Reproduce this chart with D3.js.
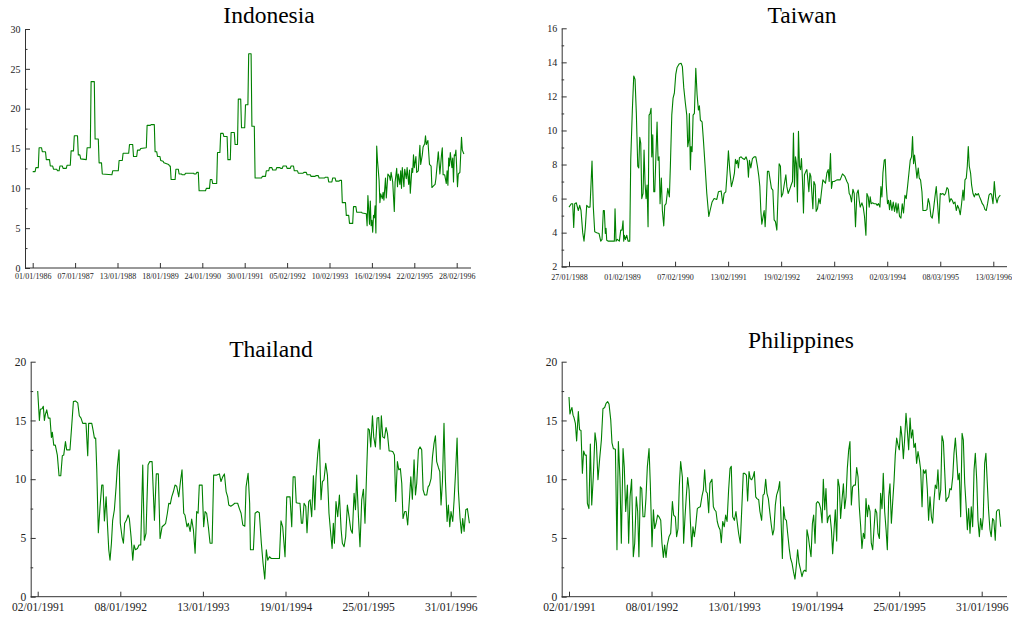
<!DOCTYPE html>
<html>
<head>
<meta charset="utf-8">
<script src="https://cdn.jsdelivr.net/npm/d3@7"></script>
<style>
  html, body { margin: 0; padding: 0; background: #fff; }
  svg { display: block; }
</style>
</head>
<body>
<div id="chart"></div>
<script>
// weekly series: [week index since first observation, rate]
const indonesia = [
  [0,12.1],[3,12.1],[4,12.6],[7,12.6],[8,15.1],[11,15.1],[12,14.6],[16,14.6],[17,13.6],[21,13.6],
  [22,12.8],[25,12.8],[26,12.4],[30,12.4],[31,12.2],[33,12.2],[34,12.8],[37,12.8],[38,12.5],[42,12.5],
  [43,12.9],[47,12.9],[48,14.7],[51,14.7],[52,16.6],[56,16.6],[57,14.2],[59,14.2],[60,13.7],[67,13.6],
  [68,15.1],[72,15.1],[73,23.4],[77,23.4],[78,16.2],[82,16.2],[83,13.2],[86,13.2],[87,11.8],[99,11.7],
  [100,12.2],[107,12.2],[108,13.5],[112,13.5],[113,14.4],[120,14.4],[121,15.5],[125,15.5],[126,14.0],[130,14.0],
  [131,14.8],[134,14.8],[135,15.0],[142,15.1],[143,17.9],[147,17.9],[148,18.0],[152,18.0],[153,14.6],[155,14.6],
  [156,14.0],[159,14.0],[160,13.5],[163,13.4],[164,13.2],[170,13.0],[171,12.8],[172,12.8],[173,11.1],[178,11.1],
  [179,12.4],[182,12.4],[183,11.8],[186,11.8],[187,11.7],[190,11.7],[191,11.9],[201,11.9],[202,11.8],[204,11.8],
  [205,12.0],[207,12.0],[208,9.7],[216,9.7],[217,10.0],[221,10.0],[222,11.1],[224,11.1],[225,10.6],[230,10.6],
  [231,14.5],[234,14.5],[235,16.9],[238,16.9],[239,16.5],[243,16.5],[244,13.6],[247,13.6],[248,17.0],[252,17.0],
  [253,15.5],[256,15.5],[257,21.2],[260,21.2],[261,17.6],[265,17.6],[266,20.5],[269,20.5],[270,26.9],[273,26.9],
  [274,17.8],[277,17.8],[278,11.3],[286,11.3],[287,11.5],[291,11.5],[292,12.2],[295,12.2],[296,12.6],[299,12.6],
  [300,12.3],[304,12.3],[305,12.6],[309,12.6],[310,12.5],[312,12.5],[313,12.8],[317,12.8],[318,12.5],[322,12.5],
  [323,12.8],[326,12.8],[327,12.2],[331,12.2],[332,11.9],[338,11.9],[339,12.0],[342,12.0],[343,11.7],[347,11.7],
  [348,11.5],[353,11.5],[354,11.6],[357,11.6],[358,11.3],[365,11.3],[366,11.4],[369,11.4],[370,10.8],[374,10.8],
  [375,11.3],[378,11.3],[379,10.9],[383,10.9],[384,11.0],[386,11.0],[387,8.2],[391,8.2],[392,6.6],[395,6.6],
  [396,5.6],[400,5.6],[401,7.7],[404,7.7],[405,7.0],[411,7.0],[412,6.9],[417,6.8],[418,5.3],[419,9.1],
  [421,5.5],[422,8.4],[423,5.3],[424,6.0],[425,4.5],[426,6.6],[427,6.3],[428,7.8],[429,4.4],[430,15.3],
  [431,13.5],[433,11.0],[434,8.2],[435,9.3],[437,8.7],[438,9.5],[439,8.5],[441,11.3],[442,8.8],[444,11.8],
  [446,11.5],[447,11.0],[448,12.0],[450,10.8],[452,7.1],[453,10.8],[455,12.5],[456,10.2],[457,11.8],[459,10.5],
  [460,12.2],[461,10.0],[462,12.6],[464,10.2],[465,12.4],[467,11.2],[468,12.6],[470,10.5],[471,12.3],[472,9.4],
  [474,12.5],[475,12.0],[476,14.2],[477,12.6],[479,14.0],[480,12.0],[482,12.2],[484,15.4],[485,13.0],[487,14.2],
  [488,15.2],[490,15.6],[491,16.6],[492,15.5],[494,16.0],[496,13.0],[498,12.8],[499,10.1],[501,10.3],[503,10.5],
  [504,11.2],[507,14.6],[509,11.8],[511,14.2],[512,15.1],[513,11.7],[515,11.7],[517,10.6],[518,12.2],[519,10.4],
  [520,13.8],[521,12.8],[522,14.5],[524,12.6],[525,13.8],[526,10.8],[527,14.2],[528,14.1],[529,14.8],[531,10.2],
  [532,11.8],[534,12.0],[536,16.4],[537,14.8],[539,14.3]
];

const taiwan = [
  [0,5.5],[2.3,5.7],[3.7,5.7],[4.7,4.3],[5.7,5.7],[7.3,5.75],[9.3,5.3],[10.7,5.6],[12,5.3],[13.7,4.0],
  [15,3.5],[16.3,4.3],[17.7,5.6],[19.3,5.5],[21,5.5],[23,8.2],[24.3,5.5],[25.7,4.05],[27.7,4.0],[30,3.95],
  [31.7,3.5],[33,3.6],[34.3,5.3],[35.3,5.3],[36.3,3.95],[37,4.25],[37.7,3.55],[39.3,3.5],[42.7,3.5],[45.3,3.5],
  [46,5.4],[47,3.5],[48.3,3.6],[50.3,3.5],[51.7,4.15],[53,4.15],[54,4.7],[54.7,3.5],[55.3,3.85],[56.3,3.6],
  [57.7,3.85],[59,3.5],[60.7,3.5],[61.7,8.3],[63.3,11.2],[64.7,13.2],[66,13.0],[67.3,11.0],[68.7,7.9],[69.7,7.8],
  [70.7,9.6],[71.7,9.25],[72.7,6.0],[74,6.3],[75,8.85],[76,6.9],[77,6.0],[78,6.8],[79,4.35],[80,10.9],
  [81,11.0],[82,11.3],[82.7,8.45],[83.7,9.75],[84.7,6.4],[85.7,6.4],[86.7,8.2],[88,10.5],[89,8.25],[90,8.45],
  [91,5.7],[92.3,7.2],[93.3,5.3],[94.7,4.4],[95.7,5.6],[97,5.7],[98.7,6.6],[100.3,6.1],[101.3,7.9],[102.7,10.9],
  [104,11.9],[105.3,12.2],[106.7,13.3],[108,13.7],[110,13.9],[112,13.95],[113.3,13.75],[114.7,12.5],[116.3,11.6],[117.7,10.9],
  [118.7,9.05],[119.7,9.45],[120.3,11.0],[121.3,7.7],[122,9.05],[123,8.75],[124,10.9],[125.3,11.0],[126.7,13.65],[128,12.1],
  [129.3,11.2],[130.3,11.45],[131.3,10.6],[133,10.5],[134.3,9.45],[136,7.9],[137.7,6.3],[139.7,4.95],[141,5.3],[143,5.8],
  [145,6.0],[147.7,5.95],[149.3,6.4],[152,6.45],[153.7,5.7],[155,6.3],[156.7,6.4],[158,7.5],[159.3,8.8],[160.7,7.65],
  [162.3,6.7],[164,7.1],[165.3,7.5],[166.3,8.3],[167.3,8.05],[168.3,8.25],[169.3,7.8],[170.3,8.4],[172,8.45],[173.7,8.35],
  [175.3,8.3],[177,8.45],[178.3,8.2],[179.3,7.25],[180.3,8.25],[181.7,7.8],[183.3,8.35],[185,8.45],[186.7,8.45],[188.3,7.9],
  [189.7,7.3],[190.7,6.7],[191.7,5.3],[192.7,4.5],[194,4.95],[195,5.3],[196,4.35],[197,5.5],[198.3,7.6],[199.7,7.6],
  [201,7.1],[202.3,6.6],[203.7,6.5],[205,4.75],[206.3,4.65],[207.7,4.15],[208.7,5.9],[210,8.05],[211.3,7.9],[212.3,6.1],
  [213.7,6.3],[215,6.8],[216.7,7.4],[217.7,6.7],[219,6.3],[220.3,6.5],[222,6.8],[223.3,7.0],[224.3,9.85],[225.3,6.7],
  [226.3,8.45],[227.3,8.05],[228.3,5.8],[229.3,9.95],[230.3,7.9],[231.3,7.7],[232.3,8.35],[233.3,7.1],[234.3,5.15],[235.3,7.4],
  [236.7,7.6],[237.7,7.7],[238.7,7.1],[239.7,6.4],[240.7,7.5],[241.7,7.3],[242.7,6.3],[243.7,5.4],[244.7,7.0],[246,6.8],
  [247,5.25],[248.3,5.4],[249.7,6.0],[251,5.7],[252.3,6.4],[253.7,7.1],[255,7.0],[256.3,6.9],[257.7,7.5],[259,7.7],
  [260,7.0],[261.3,8.65],[262.3,6.6],[263.3,7.0],[265,7.0],[267.7,7.1],[271,7.1],[273.3,7.45],[275.7,7.3],[277.7,7.0],
  [279,6.85],[280,6.3],[281,6.2],[282.3,5.8],[283.7,6.55],[285,6.3],[286.3,4.35],[287.7,6.3],[289,6.5],[290,5.9],
  [291,5.5],[292.7,5.75],[294,5.5],[295.3,4.95],[296.7,3.85],[297.7,6.3],[299,6.1],[300,5.5],[301,6.1],[302,5.7],
  [303.3,5.75],[305,5.7],[306.7,5.7],[308,5.6],[309.3,5.7],[310.7,5.5],[311.7,6.7],[312.7,6.1],[313.7,7.5],[315,8.25],
  [316,8.3],[317,6.8],[318.3,5.7],[319.3,5.9],[320.3,5.35],[321.3,5.9],[322.7,5.3],[324,5.8],[325.3,5.25],[326.7,5.75],
  [327.7,5.15],[329,5.7],[330.3,4.95],[331.7,4.85],[333,5.7],[334.3,5.15],[335.7,6.2],[337,6.0],[338.3,6.7],[339.7,7.5],
  [341,8.25],[342.3,8.45],[343.3,9.65],[344.3,8.05],[345.3,8.55],[346.3,8.0],[347.7,7.2],[349,7.8],[350,7.2],[351.3,7.1],
  [352.7,6.4],[353.7,5.3],[355,5.3],[356.3,5.3],[357.7,5.35],[359,6.0],[360.3,5.7],[361.7,4.95],[363,4.85],[364.3,5.4],
  [365.7,6.1],[367,6.7],[368.3,5.7],[369.7,4.55],[371,6.3],[372.3,6.25],[373.7,6.3],[375,6.2],[376.3,6.3],[377.7,6.65],
  [379,6.55],[380.3,5.8],[381.7,6.0],[383,5.9],[384.3,5.7],[385.7,5.8],[387,5.3],[388.3,5.6],[389.7,5.4],[391,5.05],
  [392.3,5.7],[393.7,6.5],[394.7,5.9],[395.7,7.1],[397,7.2],[398,7.9],[399,9.05],[400,7.9],[401.3,7.5],[402.3,6.8],
  [403.7,6.3],[405,6.1],[406.3,6.3],[407.7,6.2],[409,6.3],[410.3,6.1],[411.7,5.9],[413,5.7],[414.3,5.6],[415.7,5.35],
  [417,5.3],[418.3,5.7],[419.7,6.2],[421,6.3],[422.3,6.25],[423.7,5.7],[425,7.0],[426.3,6.1],[427.7,5.75],[429,6.05],
  [431,6.2]
];

const thailand = [
  [0,17.5],[1.1,15.0],[1.7,15.95],[2.8,16.0],[3.6,16.2],[4.3,15.0],[4.9,15.5],[5.8,15.9],[6.8,15.2],[7.9,15.2],
  [8.8,13.55],[9.4,14.0],[10.3,12.9],[11.3,12.9],[12.6,12.05],[13.7,10.3],[14.8,10.3],[15.8,12.0],[16.7,12.05],[17.8,13.2],
  [18.6,12.5],[20.7,12.5],[21.8,14.5],[22.9,16.6],[24.2,16.65],[25.7,16.5],[26.7,15.4],[27.8,15.2],[28.9,14.75],[31,14.75],
  [32.1,12.0],[32.7,14.75],[34.7,14.75],[35.5,14.2],[36.4,13.5],[37.2,13.5],[37.9,10.8],[38.9,5.45],[40,7.65],[41.1,9.5],
  [41.9,9.5],[42.8,6.45],[43.9,8.5],[44.7,6.3],[45.6,4.0],[46.4,3.1],[47.3,4.55],[48.1,6.5],[49.2,7.4],[50.3,9.35],
  [51.1,11.05],[52.2,12.5],[53,6.25],[54.1,5.1],[55,4.55],[55.8,6.25],[56.9,6.5],[58,6.95],[58.8,6.65],[59.9,5.1],
  [61,3.1],[61.8,4.4],[62.7,4.0],[64,4.1],[65,4.4],[66.1,4.4],[67.4,11.2],[68.4,4.8],[69.5,5.4],[70.8,11.2],
  [71.9,11.5],[73.4,11.5],[74.9,6.5],[76.1,10.45],[77.4,10.45],[78.5,4.95],[79.8,5.95],[81.1,6.1],[82.1,6.25],[83.2,7.1],
  [84.1,7.95],[85.1,7.9],[86,8.5],[87.1,8.95],[88.1,9.5],[89.2,9.4],[90.5,8.5],[91.6,9.8],[92.6,10.8],[93.7,7.1],
  [94.5,6.95],[95.8,5.95],[96.7,6.25],[97.8,5.55],[98.8,6.6],[99.9,5.7],[101,3.7],[102,7.25],[102.9,7.1],[103.7,9.5],
  [105.5,9.5],[106.5,5.95],[107.4,7.25],[108.4,7.1],[109.5,5.95],[110.6,4.55],[111.9,4.55],[112.9,10.35],[114.9,10.35],[116.6,10.45],
  [117.6,9.8],[118.7,10.2],[119.8,10.45],[120.9,8.95],[121.9,8.5],[122.6,7.8],[123.9,7.7],[125.1,7.8],[126.4,7.95],[128.3,7.95],
  [129.4,7.5],[130.5,7.1],[131.6,6.1],[132.9,6.0],[133.7,9.35],[135,10.5],[136,7.95],[136.5,4.0],[138.4,4.0],[139.5,7.1],
  [141,7.25],[142.2,7.15],[143.5,4.55],[144.6,2.85],[145.7,1.5],[146.7,4.0],[147.6,3.1],[148.7,3.4],[149.9,3.25],[151.9,3.25],
  [153.8,3.25],[155.1,3.25],[156.1,6.45],[157.2,5.95],[158.7,3.4],[159.8,8.5],[160.9,8.5],[161.9,8.5],[163,5.95],[163.9,10.2],
  [165.1,10.2],[165.9,8.0],[167.3,7.95],[168.3,7.95],[169.2,6.25],[170,6.25],[170.9,7.95],[172,7.7],[172.8,5.45],[173.9,8.1],
  [174.8,8.25],[175.8,6.8],[176.9,10.3],[177.8,7.4],[178.6,10.2],[179.7,12.2],[180.7,13.4],[181.8,8.25],[182.7,9.8],[183.7,9.95],
  [184.8,11.35],[185.9,10.35],[186.9,7.1],[188,5.4],[188.9,4.1],[189.7,6.25],[190.4,4.55],[191.4,8.1],[192.5,6.8],[193.6,8.65],
  [194.7,5.7],[195.5,4.55],[196.6,4.25],[197.6,5.1],[198.7,7.8],[199.8,6.8],[200.9,5.7],[201.9,5.4],[203,8.8],[203.9,7.4],
  [204.7,10.35],[205.8,6.8],[206.8,4.25],[207.9,8.25],[209,9.15],[210,6.25],[211.1,10.8],[212,14.3],[212.8,14.2],[213.7,12.75],
  [214.8,15.4],[215.6,13.6],[216.7,12.75],[217.8,15.2],[218.8,15.25],[219.7,12.55],[220.5,15.4],[221.4,13.6],[222.5,13.5],[223.5,14.4],
  [224.4,13.9],[225.5,12.4],[226.5,12.4],[227.8,12.35],[228.9,12.05],[229.7,8.1],[230.8,11.5],[231.7,10.8],[232.7,10.9],[233.6,9.65],
  [234.4,6.65],[235.5,7.25],[236.4,7.25],[237.4,6.1],[238.5,8.25],[239.4,10.2],[240.4,8.3],[241.5,11.65],[242.4,8.65],[243.2,9.65],
  [244.3,12.5],[245.3,12.75],[246.4,12.5],[247.3,9.1],[248.3,8.65],[249.6,8.65],[250.5,9.35],[251.3,9.5],[252.4,10.05],[253.3,11.9],
  [254.3,13.05],[255.2,13.7],[256,11.5],[257.1,11.0],[258,10.65],[258.8,7.8],[259.7,9.8],[260.7,14.75],[261.6,9.95],[262.7,6.4],
  [263.5,7.8],[264.4,5.95],[265.2,7.25],[266.3,6.4],[267.2,8.25],[268.2,10.8],[269.1,13.5],[269.9,9.1],[271,6.65],[271.9,5.4],
  [272.7,6.65],[273.6,5.55],[274.7,7.4],[275.7,7.5],[277,6.25]
];

const philippines = [
  [0,17.0],[0.6,15.55],[1.3,15.9],[1.9,16.1],[2.6,15.45],[3.2,15.25],[4.1,14.75],[4.9,13.25],[6,15.75],[6.8,14.2],
  [7.7,14.15],[8.6,10.5],[9.4,12.4],[10.3,12.05],[11.1,12.05],[11.8,7.95],[12.8,7.5],[13.7,13.0],[14.6,7.8],[15.6,10.2],
  [16.7,13.95],[17.6,13.05],[18.6,9.95],[19.7,11.75],[20.8,13.35],[21.8,16.0],[22.9,16.1],[23.8,16.45],[24.8,16.6],[25.7,16.4],
  [26.8,15.05],[27.6,13.1],[28.5,12.6],[29.8,12.55],[30.8,4.0],[31.7,13.2],[32.7,10.2],[33.6,4.55],[34.7,12.6],[35.5,11.05],
  [36.4,7.25],[37.5,9.5],[38.3,4.55],[39.2,8.5],[40.2,10.0],[41.3,3.4],[42.2,4.55],[43.2,8.5],[44.1,7.25],[44.9,3.4],
  [45.8,9.35],[46.7,9.2],[47.5,6.8],[48.6,6.8],[49.4,8.35],[50.3,11.05],[51.4,12.6],[52.2,9.65],[53.3,4.25],[54.2,7.4],
  [55,5.8],[55.9,6.25],[56.9,6.95],[57.8,6.8],[58.9,6.5],[59.7,4.55],[60.6,3.35],[61.4,4.4],[62.3,3.35],[63.1,4.4],
  [64.2,5.1],[65.3,5.4],[66.4,8.1],[67.2,6.95],[68.3,6.8],[69.1,5.1],[70,5.8],[70.8,9.35],[71.7,11.5],[72.8,10.2],
  [73.6,4.55],[74.5,6.8],[75.3,8.5],[76.2,10.15],[77.1,9.1],[77.9,6.5],[78.8,4.25],[79.6,5.95],[80.5,5.1],[81.3,5.95],
  [82.4,7.5],[83.3,7.6],[84.3,7.65],[85.4,8.55],[86.3,9.1],[87.1,10.8],[88,8.95],[88.8,8.8],[89.7,7.15],[90.5,9.65],
  [91.8,10.0],[92.7,7.65],[93.5,7.4],[94.4,7.25],[95.2,6.4],[96.1,5.95],[97,5.7],[97.8,4.6],[98.7,6.4],[99.7,5.95],
  [100.6,6.95],[101.5,6.4],[102.5,9.1],[103.4,10.9],[104.2,11.1],[105.1,6.8],[106.2,6.5],[107.2,7.25],[108.1,6.25],[108.9,5.4],
  [110,4.55],[111.1,8.0],[111.9,10.5],[112.8,10.5],[113.9,10.35],[114.7,8.15],[115.6,10.65],[116.4,10.05],[117.3,9.95],[118.2,10.2],
  [119,10.65],[119.9,8.5],[120.7,8.35],[121.8,8.25],[122.6,7.25],[123.7,6.5],[124.6,8.65],[125.4,8.75],[126.3,10.0],[127.1,8.8],
  [128,8.35],[128.9,7.25],[129.9,6.1],[130.8,5.25],[131.6,5.7],[132.5,7.8],[133.3,8.65],[134.4,9.1],[135.3,9.8],[136.1,6.8],
  [137,3.25],[137.8,7.65],[138.7,6.6],[139.6,6.5],[140.4,5.4],[141.5,4.0],[142.3,3.25],[143.2,2.85],[144.1,2.15],[145.1,1.5],
  [146,2.7],[146.8,4.0],[147.7,2.85],[148.5,2.4],[149.6,1.7],[150.5,2.15],[151.3,2.25],[152.2,2.15],[152.8,5.7],[153.7,5.1],
  [154.5,4.25],[155.4,3.4],[156.3,6.25],[157.1,6.95],[158,4.55],[158.8,7.95],[159.7,8.1],[160.7,7.95],[161.6,7.5],[162.5,6.3],
  [163.3,10.0],[164.2,7.4],[165,9.2],[165.9,6.3],[166.7,6.8],[167.6,6.95],[168.5,5.7],[169.3,3.65],[170.2,5.7],[171,7.4],
  [171.9,4.75],[172.7,10.0],[173.6,9.35],[174.4,6.65],[175.3,8.25],[176.2,9.6],[177,7.5],[177.9,8.5],[178.7,10.9],[179.6,12.5],
  [180.4,13.2],[181.3,7.8],[182.1,9.35],[183,9.5],[183.9,9.5],[184.7,11.0],[185.6,10.2],[186.4,7.65],[187.3,5.95],[188.1,4.1],
  [189,5.4],[189.9,4.95],[190.7,8.35],[191.6,6.8],[192.4,7.8],[193.3,7.25],[194.1,4.55],[195,4.0],[195.8,5.7],[196.7,7.45],
  [197.6,7.15],[198.4,5.4],[199.3,4.95],[200.1,8.8],[201,7.5],[201.8,10.5],[202.7,7.25],[203.6,5.7],[204.4,4.0],[205.3,8.5],
  [206.1,9.6],[207,6.25],[207.8,7.95],[208.7,9.8],[209.5,12.05],[210.4,13.5],[211.3,12.9],[212.1,12.5],[213,14.5],[213.8,13.6],
  [214.7,11.75],[215.5,13.35],[216.4,15.6],[217.3,14.05],[218.1,12.5],[219,15.2],[219.8,13.5],[220.7,14.2],[221.5,12.7],[222.4,13.05],
  [223.2,11.35],[224.1,12.35],[225,11.65],[225.8,10.8],[226.7,7.65],[227.5,10.8],[228.4,10.5],[229.2,10.8],[230.1,9.1],[230.9,6.5],
  [231.8,8.5],[232.7,6.8],[233.5,6.25],[234.4,8.25],[235.2,9.5],[236.1,9.2],[236.9,10.8],[237.8,8.25],[238.7,9.1],[239.5,13.7],
  [240.4,13.2],[241.2,10.8],[242.1,8.1],[242.9,8.35],[243.8,8.5],[244.6,9.2],[245.5,9.1],[246.4,10.2],[247.2,12.2],[248.1,13.5],
  [248.9,11.9],[249.8,9.95],[250.6,10.5],[251.5,6.8],[252.4,13.9],[253.2,13.35],[254.1,9.65],[254.9,7.95],[255.8,5.7],[256.6,7.5],
  [257.5,5.4],[258.3,7.65],[259.2,5.95],[260.1,10.8],[260.9,12.2],[261.8,9.95],[262.6,6.5],[263.5,5.1],[264.3,6.65],[265.2,5.7],
  [266,6.8],[266.9,11.35],[267.7,12.2],[268.6,9.65],[269.4,7.4],[270.3,5.7],[271.1,5.1],[272,6.65],[272.8,6.5],[273.7,4.8],
  [274.5,7.25],[275.4,7.4],[276.2,7.4],[277.2,5.95]
];

// x tick labels, one every 53 weeks
const indonesiaDates = ['01/01/1986', '07/01/1987', '13/01/1988', '18/01/1989', '24/01/1990', '30/01/1991',
  '05/02/1992', '10/02/1993', '16/02/1994', '22/02/1995', '28/02/1996'];
const taiwanDates = ['27/01/1988', '01/02/1989', '07/02/1990', '13/02/1991', '19/02/1992', '24/02/1993',
  '02/03/1994', '08/03/1995', '13/03/1996'];
const asiaDates = ['02/01/1991', '08/01/1992', '13/01/1993', '19/01/1994', '25/01/1995', '31/01/1996'];
const weeksPerTick = 53;

const panels = [
  {
    title: 'Indonesia', data: indonesia, dates: indonesiaDates,
    yDomain: [0, 30], yStep: 5,
    axisX: 25, axisEnd: 471, x0: 32.7, x1: 456.7, top: 29, bottom: 268,
    titleX: 269, titleY: 23, xFont: 8, yFont: 10, xPad: 5.5,
  },
  {
    title: 'Taiwan', data: taiwan, dates: taiwanDates,
    yDomain: [2, 16], yStep: 2,
    axisX: 561.7, axisEnd: 1007, x0: 569, x1: 993.3, top: 28.3, bottom: 266.7,
    titleX: 802, titleY: 23, xFont: 8, yFont: 10, xPad: 7.5,
  },
  {
    title: 'Thailand', data: thailand, dates: asiaDates,
    yDomain: [0, 20], yStep: 5,
    axisX: 30.7, axisEnd: 476.7, x0: 37.7, x1: 450.7, top: 361.7, bottom: 596.7,
    titleX: 271, titleY: 356.5, xFont: 11.5, yFont: 11.5, xPad: 6,
  },
  {
    title: 'Philippines', data: philippines, dates: asiaDates,
    yDomain: [0, 20], yStep: 5,
    axisX: 561.7, axisEnd: 1007, x0: 569, x1: 981.7, top: 361.7, bottom: 596.7,
    titleX: 801, titleY: 348, xFont: 11.5, yFont: 11.5, xPad: 6,
  },
];

const fontFamily = "'Liberation Serif', 'Times New Roman', serif";
const axisColor = '#333';
const lineColor = '#008000';

const svg = d3.select('#chart')
  .append('svg')
  .attr('width', 1012)
  .attr('height', 617)
  .style('background', '#fff');

const styleAxis = (g, fontSize) => {
  g.attr('font-family', fontFamily)
    .attr('font-size', fontSize);
  g.selectAll('line').attr('stroke', axisColor);
  g.selectAll('text').attr('fill', '#222');
};

panels.forEach(p => {
  const lastTick = (p.dates.length - 1) * weeksPerTick;
  const x = d3.scaleLinear().domain([0, lastTick]).range([p.x0, p.x1]);
  const y = d3.scaleLinear().domain(p.yDomain).range([p.bottom, p.top]);

  const g = svg.append('g');

  // y axis: major ticks with labels, minor ticks in between, both pointing inward
  const majors = d3.range(p.yDomain[0], p.yDomain[1] + 0.001, p.yStep);
  const minors = d3.range(p.yDomain[0] + p.yStep / 2, p.yDomain[1], p.yStep);

  g.append('g')
    .attr('transform', `translate(${p.axisX},0)`)
    .call(d3.axisLeft(y).tickValues(minors).tickSizeInner(-2.5).tickSizeOuter(0).tickFormat(''))
    .call(a => a.select('.domain').remove())
    .call(a => styleAxis(a, p.yFont));

  g.append('g')
    .attr('transform', `translate(${p.axisX},0)`)
    .call(d3.axisLeft(y).tickValues(majors).tickSizeInner(-5).tickSizeOuter(0).tickPadding(4.5))
    .call(a => a.select('.domain').attr('stroke', axisColor))
    .call(a => styleAxis(a, p.yFont));

  // x axis: ticks every 53 weeks, labelled with the date
  g.append('g')
    .attr('transform', `translate(0,${p.bottom})`)
    .call(d3.axisBottom(x)
      .tickValues(p.dates.map((d, i) => i * weeksPerTick))
      .tickFormat((d, i) => p.dates[i])
      .tickSizeInner(-5)
      .tickSizeOuter(0)
      .tickPadding(p.xPad))
    .call(a => a.select('.domain').remove())
    .call(a => styleAxis(a, p.xFont));

  g.append('line')
    .attr('x1', p.axisX)
    .attr('x2', p.axisEnd)
    .attr('y1', p.bottom)
    .attr('y2', p.bottom)
    .attr('stroke', axisColor);

  const line = d3.line()
    .x(d => x(d[0]))
    .y(d => y(d[1]));

  g.append('path')
    .datum(p.data)
    .attr('d', line)
    .attr('fill', 'none')
    .attr('stroke', lineColor)
    .attr('stroke-width', 1.1)
    .attr('stroke-linejoin', 'round');

  g.append('text')
    .attr('x', p.titleX)
    .attr('y', p.titleY)
    .attr('text-anchor', 'middle')
    .attr('font-family', fontFamily)
    .attr('font-size', 23.5)
    .attr('fill', '#000')
    .text(p.title);
});
</script>
</body>
</html>
